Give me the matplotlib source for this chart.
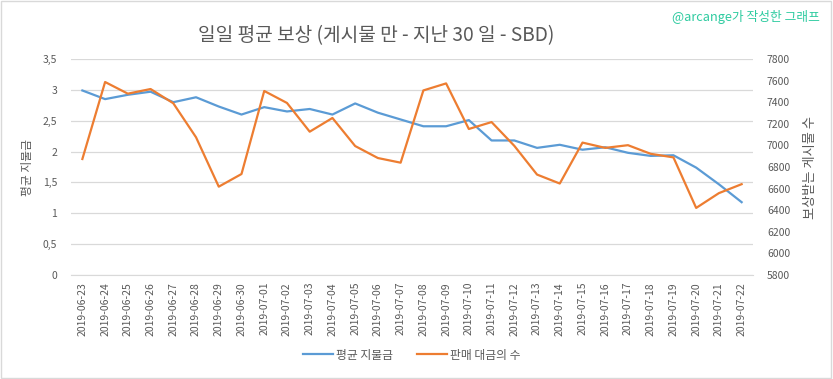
import matplotlib
matplotlib.use("Agg")
import matplotlib.pyplot as plt
from matplotlib.ticker import FuncFormatter, MultipleLocator
from matplotlib.patches import Rectangle

plt.rcParams['font.family'] = ['Noto Sans CJK KR', 'DejaVu Sans']

dates = ["2019-06-23", "2019-06-24", "2019-06-25", "2019-06-26", "2019-06-27",
         "2019-06-28", "2019-06-29", "2019-06-30", "2019-07-01", "2019-07-02",
         "2019-07-03", "2019-07-04", "2019-07-05", "2019-07-06", "2019-07-07",
         "2019-07-08", "2019-07-09", "2019-07-10", "2019-07-11", "2019-07-12",
         "2019-07-13", "2019-07-14", "2019-07-15", "2019-07-16", "2019-07-17",
         "2019-07-18", "2019-07-19", "2019-07-20", "2019-07-21", "2019-07-22"]
avg_payout = [2.99, 2.85, 2.92, 2.97, 2.80, 2.88, 2.73, 2.60, 2.72, 2.65,
              2.69, 2.60, 2.78, 2.63, 2.52, 2.41, 2.41, 2.51, 2.18, 2.18,
              2.06, 2.11, 2.03, 2.07, 1.98, 1.93, 1.94, 1.74, 1.47, 1.18]
post_count = [6874, 7587, 7479, 7522, 7390, 7075, 6618, 6735, 7504, 7393,
              7127, 7254, 6994, 6883, 6840, 7509, 7574, 7152, 7216, 6996,
              6730, 6647, 7026, 6977, 7002, 6922, 6889, 6421, 6558, 6641]

title = "일일 평균 보상 (게시물 만 - 지난 30 일 - SBD)"
watermark = "@arcange가 작성한 그래프"
left_label = "평균 지불금"
right_label = "보상받는 게시물 수"
legend_labels = ["평균 지불금", "판매 대금의 수"]

blue = "#5B9BD5"
orange = "#ED7D31"
grey = "#595959"
grid = "#D9D9D9"

fig = plt.figure(figsize=(8.33, 3.79), dpi=100)
ax = fig.add_axes([71/833, 1-275/379, (753-71)/833, (275-59)/379])
ax2 = ax.twinx()

x = list(range(len(dates)))
l1, = ax.plot(x, avg_payout, color=blue, lw=1.6)
l2, = ax2.plot(x, post_count, color=orange, lw=1.6)

ax.set_xlim(-0.5, len(dates) - 0.5)
ax.set_ylim(0, 3.5)
ax.yaxis.set_major_locator(MultipleLocator(0.5))
ax.yaxis.set_major_formatter(FuncFormatter(lambda v, p: ("%g" % v).replace(".", ",")))
ax2.set_ylim(5800, 7800)
ax2.yaxis.set_major_locator(MultipleLocator(200))

ax.set_xticks(x)
ax.set_xticklabels(dates, rotation=90, fontsize=7.5, color=grey)
ax.grid(axis='y', color=grid, lw=0.9)
ax.set_axisbelow(True)
for a in (ax, ax2):
    for s in a.spines.values():
        s.set_visible(False)
    a.tick_params(length=0, colors=grey, labelsize=7.5)
ax.spines['bottom'].set_visible(True)
ax.spines['bottom'].set_color(grid)
ax.tick_params(axis='y', pad=10)
ax.tick_params(axis='x', pad=5)
ax2.tick_params(axis='y', pad=10)

ax.set_ylabel(left_label, color=grey, fontsize=8.5, labelpad=6)
ax2.set_ylabel(right_label, color=grey, fontsize=9.5, rotation=90, labelpad=10)

fig.text(376/833, 1-36/379, title, ha='center', va='center', fontsize=13.8, color=grey)
fig.text(820/833, 1-17/379, watermark, ha='right', va='center', fontsize=9.2, color="#2ECBA0")

fig.legend([l1, l2], legend_labels, loc='center', bbox_to_anchor=(412/833, 1-355/379),
           ncol=2, frameon=False, fontsize=8.5, labelcolor=grey, handlelength=2.5,
           columnspacing=2.0, handletextpad=0.3)

fig.patches.append(Rectangle((0.001, 0.002), 0.997, 0.995, transform=fig.transFigure,
                             fill=False, edgecolor=grid, lw=1))

fig.savefig("out.png", dpi=100)
